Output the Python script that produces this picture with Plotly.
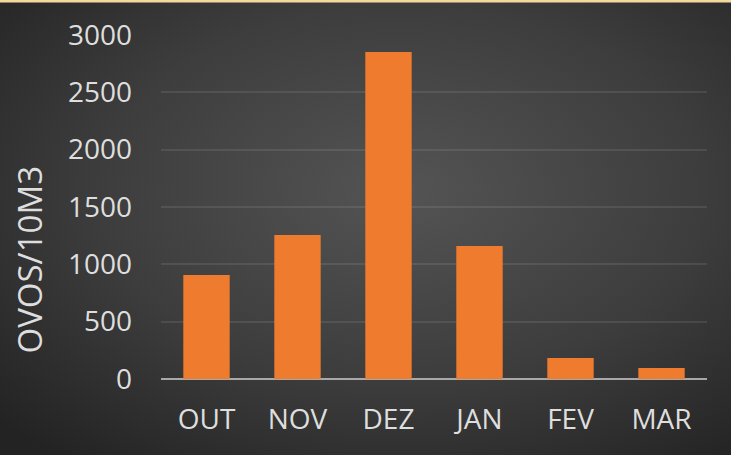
import base64
import plotly.graph_objects as go

categories = ["OUT", "NOV", "DEZ", "JAN", "FEV", "MAR"]
values = [908, 1256, 2852, 1160, 183, 96]
y_ticks = [0, 500, 1000, 1500, 2000, 2500, 3000]
y_title = "OVOS/10M3"

W, H = 731, 455
L, R, T, B = 161, 24, 35, 76
PW, PH = W - L - R, H - T - B

svg = f"""<svg xmlns='http://www.w3.org/2000/svg' width='{W}' height='{H}' viewBox='0 0 {W} {H}' preserveAspectRatio='none'>
<defs><radialGradient id='g' cx='0.55' cy='0.42' r='0.75'>
<stop offset='0' stop-color='#545454'/><stop offset='0.55' stop-color='#3d3d3d'/><stop offset='1' stop-color='#232323'/>
</radialGradient></defs>
<rect x='0' y='0' width='{W}' height='{H}' fill='url(#g)'/>
<rect x='0' y='0' width='{W}' height='2.5' fill='#f4d99c'/>
</svg>"""
bg_src = "data:image/svg+xml;base64," + base64.b64encode(svg.encode()).decode()

fig = go.Figure()
fig.add_trace(go.Bar(
    x=categories, y=values,
    marker=dict(color="#ef7b2f", line=dict(width=0)),
    hoverinfo="skip",
))

font_family = "Open Sans, Liberation Sans, sans-serif"
fig.update_layout(
    width=W, height=H,
    margin=dict(l=L, r=R, t=T, b=B, pad=0),
    paper_bgcolor="#333333",
    plot_bgcolor="rgba(0,0,0,0)",
    bargap=0.49,
    showlegend=False,
    font=dict(family=font_family, color="#d9d9d9"),
    images=[dict(
        source=bg_src, xref="paper", yref="paper",
        x=-L / PW, y=1 + T / PH, sizex=W / PW, sizey=H / PH,
        xanchor="left", yanchor="top", sizing="stretch", layer="below",
    )],
    xaxis=dict(
        showgrid=False, showline=False, zeroline=False,
        tickfont=dict(size=28, color="#dedede"),
        ticks="", ticklabelstandoff=21,
    ),
    yaxis=dict(
        range=[0, 3000], tickvals=y_ticks,
        showgrid=True, gridcolor="rgba(255,255,255,0.09)", gridwidth=2,
        zeroline=True, zerolinecolor="#a8a8a8", zerolinewidth=2,
        showline=False, ticks="",
        tickfont=dict(size=28, color="#dedede"),
        ticklabelstandoff=28,
    ),
    annotations=[dict(
        text=y_title, xref="paper", yref="paper",
        x=(29 - L) / PW, y=(379 - 259.5) / PH,
        xanchor="center", yanchor="middle", textangle=-90,
        showarrow=False, font=dict(size=33, color="#dedede", family=font_family),
    )],
)

fig.write_html(
    "out.html",
    config={"displayModeBar": False, "staticPlot": True},
    post_script="document.body.style.margin='0';document.body.style.padding='0';",
)
